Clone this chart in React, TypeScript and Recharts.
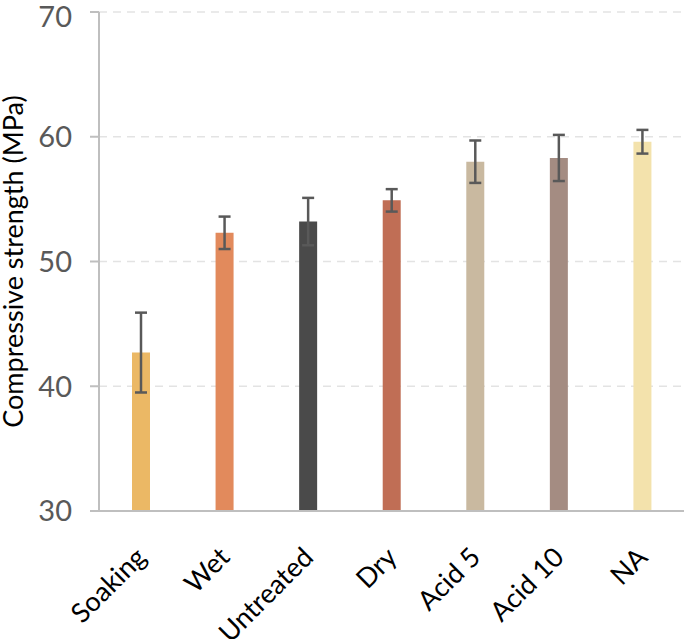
import React from 'react';
import { BarChart, Bar, XAxis, YAxis, CartesianGrid, ErrorBar, Cell } from 'recharts';

const categories = ['Soaking', 'Wet', 'Untreated', 'Dry', 'Acid 5', 'Acid 10', 'NA'];
const strength = [42.7, 52.3, 53.2, 54.9, 58.0, 58.3, 59.6];
const errors = [3.2, 1.3, 1.9, 0.9, 1.7, 1.85, 0.95];
const colors = ['#EBB865', '#E28A5C', '#4A4A4A', '#C06E55', '#C9B9A0', '#A48C82', '#F3E2AC'];
const yTicks = [30, 40, 50, 60, 70];

const data = categories.map((name, i) => ({ name, value: strength[i], err: errors[i] }));

const FONT = 'Lato, "Open Sans", sans-serif';

const XTick = (props: any) => {
  const { x, y, payload } = props;
  return (
    <g transform={`translate(${x + 7},${y + 40})`}>
      <text x={0} y={0} textAnchor="end" transform="rotate(-45)" fill="#000" fontSize={27} fontFamily={FONT}>
        {payload.value}
      </text>
    </g>
  );
};

export default function App() {
  return (
    <div style={{ position: 'absolute', left: 0, top: 0, background: '#fff' }}>
      <BarChart width={685} height={639} data={data} margin={{ top: 12, right: 1, left: 0, bottom: 0 }} barSize={18}>
        <CartesianGrid vertical={false} stroke="#e3e3e3" strokeDasharray="8 6" strokeWidth={1.5} />
        <XAxis
          dataKey="name"
          interval={0}
          height={128}
          tickLine={false}
          axisLine={{ stroke: '#bfbfbf', strokeWidth: 2 }}
          tick={<XTick />}
        />
        <YAxis
          domain={[30, 70]}
          ticks={yTicks}
          width={99}
          allowDataOverflow
          axisLine={{ stroke: '#bfbfbf', strokeWidth: 2 }}
          tickLine={{ stroke: '#bfbfbf', strokeWidth: 2 }}
          tickSize={9}
          tickMargin={18}
          tick={{ fill: '#595959', fontSize: 29, fontFamily: FONT }}
          label={{
            value: 'Compressive strength (MPa)',
            angle: -90,
            position: 'insideLeft',
            offset: 0,
            dx: 13,
            style: { textAnchor: 'middle', fill: '#000', fontSize: 27, fontFamily: FONT },
          }}
        />
        <Bar dataKey="value" isAnimationActive={false}>
          {data.map((d, i) => (
            <Cell key={d.name} fill={colors[i]} />
          ))}
          <ErrorBar dataKey="err" width={6} stroke="#595959" strokeWidth={2.5} />
        </Bar>
      </BarChart>
    </div>
  );
}
